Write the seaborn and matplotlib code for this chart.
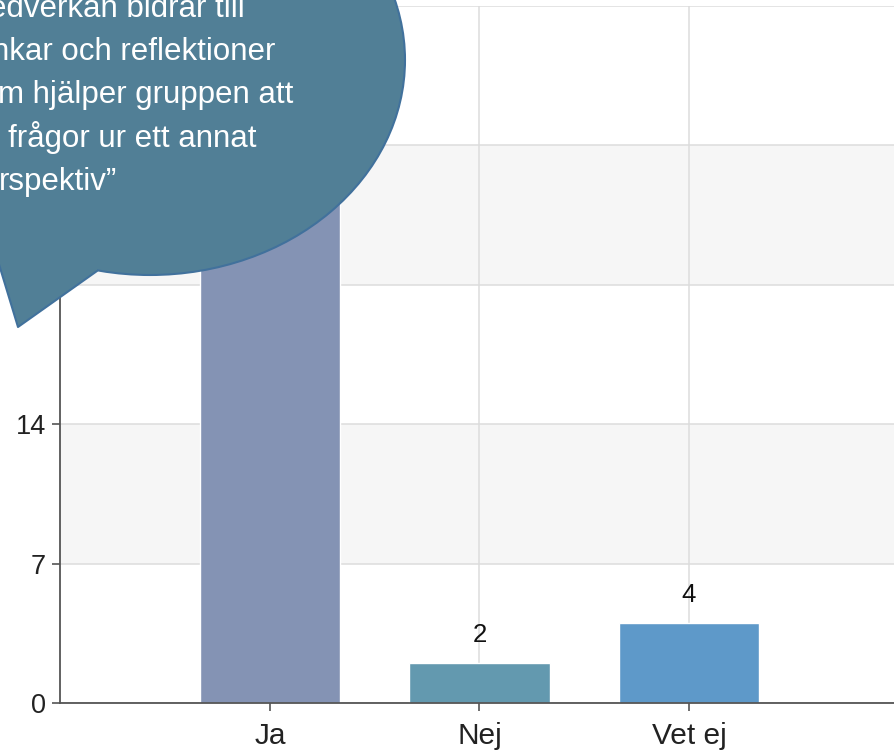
import matplotlib
matplotlib.use("Agg")
import matplotlib.pyplot as plt
import seaborn as sns
import pandas as pd
from matplotlib.patches import Ellipse, Polygon
from matplotlib.lines import Line2D
from matplotlib.transforms import Affine2D

# ---- data ----
categories = ["Ja", "Nej", "Vet ej"]
values = [30, 2, 4]
bar_colors = ["#8493B4", "#6399AF", "#5E99C9"]
y_ticks = [0, 7, 14, 21, 28, 35]
y_tick_labels = ["0", "7", "14", "", "", ""]   # upper labels hidden under the bubble
shown_value_labels = ["", "2", "4"]            # Ja label hidden under the bubble
bubble_lines = ["edverkan bidrar till", "nkar och reflektioner",
                "m hjälper gruppen att", "frågor ur ett annat", "rspektiv\u201d"]

sns.set_theme(style="white")
plt.rcParams["font.family"] = ["Liberation Sans", "DejaVu Sans"]

W, H = 895, 752
fig = plt.figure(figsize=(W / 100, H / 100), dpi=100)
ax = fig.add_axes([60 / W, 1 - 703 / H, 1 - 60 / W, (703 - 6) / H])

df = pd.DataFrame({"cat": categories, "val": values})
sns.barplot(data=df, x="cat", y="val", hue="cat", palette=bar_colors,
            legend=False, width=0.67, ax=ax, zorder=3, saturation=1)

ax.set_xlim(-1.002, 2.983)
ax.set_ylim(0, 35)

# alternating bands
for lo, hi in [(7, 14), (21, 28)]:
    ax.axhspan(lo, hi, color="#f6f6f6", zorder=0, lw=0)
ax.set_yticks(y_ticks)
ax.set_yticklabels(y_tick_labels)
ax.set_axisbelow(True)
ax.grid(True, axis="both", color="#dcdcdc", lw=1.1, zorder=1)

for s in ["top", "right"]:
    ax.spines[s].set_visible(False)
for s in ["left", "bottom"]:
    ax.spines[s].set_color("#555555")
    ax.spines[s].set_linewidth(1.3)
    ax.spines[s].set_zorder(4)

ax.tick_params(axis="y", left=True, length=6, width=1.2, color="#555555",
               labelsize=19.5, labelcolor="#222222", pad=4)
ax.tick_params(axis="x", bottom=True, length=6, width=1.2, color="#555555",
               labelsize=21.5, labelcolor="#222222", pad=8)
ax.set_xlabel("")
ax.set_ylabel("")

# value labels (one container per hue level)
for cont, lab in zip(ax.containers, shown_value_labels):
    if lab:
        ax.bar_label(cont, labels=[lab], fontsize=18.5, color="#111111",
                     padding=12)

# ---- speech bubble (figure pixel coords, y from top) ----
tr = Affine2D().scale(1 / W, -1 / H).translate(0, 1) + fig.transFigure
face = "#517F96"
edge = "#41719C"
ell = Ellipse((150, 60), 510, 430, transform=tr, facecolor=face,
              edgecolor=edge, lw=1.5, zorder=10)
fig.patches.append(ell)
tail = Polygon([(97, 271), (18, 327), (-12, 228), (60, 150), (110, 150)],
               closed=True, transform=tr, facecolor=face, edgecolor="none",
               zorder=11)
fig.patches.append(tail)
fig.lines.append(Line2D([97, 18, -12], [271, 327, 228], transform=tr,
                        color=edge, lw=1.5, zorder=12))

right_ends = [245, 275, 293, 257, 117]
baselines = [17, 60, 103, 147, 190]
for s, xr, yb in zip(bubble_lines, right_ends, baselines):
    fig.text(xr / W, 1 - yb / H, s, ha="right", va="baseline", color="white",
             fontsize=22.5, zorder=13)

fig.savefig("out.png", dpi=100)
